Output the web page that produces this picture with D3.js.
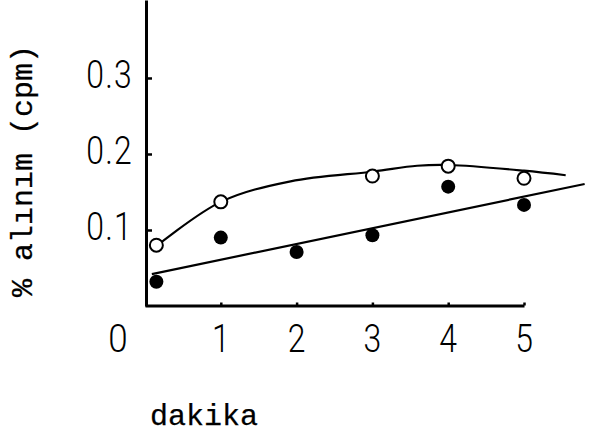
<!DOCTYPE html>
<html>
<head>
<meta charset="utf-8">
<script src="https://cdn.jsdelivr.net/npm/d3@7"></script>
<style>
  html, body { margin: 0; padding: 0; background: #fff; }
  svg { display: block; }
</style>
</head>
<body>
<svg id="chart" width="594" height="435"></svg>
<script>
// Measured uptake over time (minutes)
const openX = [0.15, 1, 3, 4, 5];
const openY = [0.080, 0.137, 0.171, 0.184, 0.168];
const filledX = [0.15, 1, 2, 3, 4, 5];
const filledY = [0.032, 0.090, 0.071, 0.093, 0.157, 0.133];

// Hand-drawn fitted curve through the open-circle series
const curveX = [0.09, 1.0, 1.92, 3.02, 3.59, 4.02, 5.0, 5.55];
const curveY = [0.074, 0.137, 0.164, 0.177, 0.1845, 0.1855, 0.178, 0.172];

// Straight regression line through the filled-circle series
const lineX = [0.09, 5.8];
const lineY = [0.042, 0.1605];

const xTicks = [1, 2, 3, 4, 5];
const yTicks = [0.1, 0.2, 0.3];
const xTickLabels = ["1", "2", "3", "4", "5"];
const yTickLabels = ["0.1", "0.2", "0.3"];
const originLabel = "0";
const xTitle = "dakika";
const yTitle = "% alınım (cpm)";

const svg = d3.select("#chart");
const x = d3.scaleLinear().domain([0, 5]).range([145, 524]);
const y = d3.scaleLinear().domain([0, 0.4026]).range([306, 0]);

const digitFont = "Roboto, 'Liberation Sans', sans-serif";
const monoFont = "'Liberation Mono', 'DejaVu Sans Mono', monospace";

// Axes: ticks point inward, labels drawn separately in a condensed face
const xAxis = svg.append("g")
  .attr("transform", `translate(0,${y(0) - 0.5})`)
  .call(d3.axisBottom(x).tickValues(xTicks).tickSize(-3).tickSizeOuter(0).tickFormat(""));
const yAxis = svg.append("g")
  .attr("transform", `translate(${x(0) + 1},0)`)
  .call(d3.axisLeft(y).tickValues(yTicks).tickSize(-6).tickSizeOuter(0).tickFormat(""));
[xAxis, yAxis].forEach(g => {
  g.select(".domain").attr("stroke", "#000").attr("stroke-width", 3);
  g.selectAll(".tick line").attr("stroke", "#000").attr("stroke-width", 2.5);
});

const condensed = 0.84;
svg.append("g").selectAll("text")
  .data(xTicks)
  .join("text")
  .attr("transform", d => `translate(${x(d)},352) scale(${condensed},1)`)
  .attr("text-anchor", "middle")
  .attr("font-family", digitFont)
  .attr("font-weight", 300)
  .attr("font-size", 38)
  .attr("fill", "#000")
  .text((d, i) => xTickLabels[i]);

svg.append("text")
  .attr("transform", `translate(${x(0) - 27},352) scale(0.92,1)`)
  .attr("text-anchor", "middle")
  .attr("font-family", digitFont)
  .attr("font-weight", 300)
  .attr("font-size", 38)
  .attr("fill", "#000")
  .text(originLabel);

svg.append("g").selectAll("text")
  .data(yTicks)
  .join("text")
  .attr("transform", d => `translate(133,${y(d) + 10.5}) scale(${condensed},1)`)
  .attr("text-anchor", "end")
  .attr("font-family", digitFont)
  .attr("font-weight", 300)
  .attr("font-size", 38)
  .attr("letter-spacing", 1.5)
  .attr("fill", "#000")
  .text((d, i) => yTickLabels[i]);

// Axis titles
svg.append("text")
  .attr("x", 150).attr("y", 425)
  .attr("font-family", monoFont)
  .attr("font-size", 30)
  .attr("fill", "#000")
  .attr("stroke", "#000").attr("stroke-width", 0.25)
  .text(xTitle);

svg.append("text")
  .attr("transform", "translate(32,171) rotate(-90)")
  .attr("text-anchor", "middle")
  .attr("font-family", monoFont)
  .attr("font-size", 30)
  .attr("fill", "#000")
  .attr("stroke", "#000").attr("stroke-width", 0.25)
  .text(yTitle);

// Fitted lines
const curveLine = d3.line().x(d => x(d[0])).y(d => y(d[1])).curve(d3.curveCatmullRom.alpha(0.5));
svg.append("path")
  .datum(curveX.map((v, i) => [v, curveY[i]]))
  .attr("d", curveLine)
  .attr("fill", "none").attr("stroke", "#000").attr("stroke-width", 2.2);

svg.append("path")
  .datum(lineX.map((v, i) => [v, lineY[i]]))
  .attr("d", d3.line().x(d => x(d[0])).y(d => y(d[1])))
  .attr("fill", "none").attr("stroke", "#000").attr("stroke-width", 2.2);

// Data points
svg.append("g").selectAll("circle")
  .data(filledX.map((v, i) => [v, filledY[i]]))
  .join("circle")
  .attr("cx", d => x(d[0])).attr("cy", d => y(d[1]))
  .attr("r", 7)
  .attr("fill", "#000");

svg.append("g").selectAll("circle")
  .data(openX.map((v, i) => [v, openY[i]]))
  .join("circle")
  .attr("cx", d => x(d[0])).attr("cy", d => y(d[1]))
  .attr("r", 6.5)
  .attr("fill", "#fff").attr("stroke", "#000").attr("stroke-width", 2);
</script>
</body>
</html>
